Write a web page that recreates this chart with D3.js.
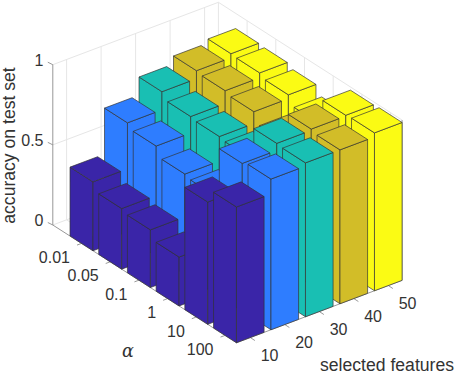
<!DOCTYPE html>
<html>
<head>
<meta charset="utf-8">
<script src="https://cdn.jsdelivr.net/npm/d3@7"></script>
<style>
  html, body { margin: 0; padding: 0; background: #fff; }
  text { font-family: "Liberation Sans", Arial, sans-serif; fill: #333; }
</style>
</head>
<body>
<svg id="chart" width="458" height="372"></svg>
<script>
const features = [10, 20, 30, 40, 50];
const alphas = ["0.01", "0.05", "0.1", "1", "10", "100"];
const zTicks = [0, 0.5, 1];

// one array per selected-features value, in alpha order
const acc10 = [0.43, 0.378, 0.36, 0.305, 0.763, 0.847];
const acc20 = [0.717, 0.687, 0.627, 0.613, 0.923, 0.94];
const acc30 = [0.83, 0.79, 0.78, 0.77, 0.967, 0.96];
const acc40 = [0.88, 0.87, 0.854, 0.79, 0.975, 0.96];
const acc50 = [0.905, 0.9, 0.878, 0.823, 0.98, 0.985];
const accuracy = [acc10, acc20, acc30, acc40, acc50];

const colors = ["#3a25a8", "#2e7dff", "#19bfb3", "#d2bd28", "#fbfb14"];

const svg = d3.select("#chart");

// oblique projection: each data axis gets its own pair of scales
const fx = d3.scaleLinear().domain([0, 1]).range([0, 34.5]);
const fy = d3.scaleLinear().domain([0, 1]).range([0, -13]);
const ax = d3.scaleLinear().domain([0, 1]).range([0, 28.7]);
const ay = d3.scaleLinear().domain([0, 1]).range([0, 18.4]);
const zy = d3.scaleLinear().domain([0, 1]).range([0, -160.3]);

function project(f, a, z) {
  return [32.1 + fx(f) + ax(a), 232.8 + fy(f) + ay(a) + zy(z)];
}
function path(points) {
  return d3.line()(points) + "Z";
}

const fMin = 0.6, fMax = 5.4, aMin = 0, aMax = 6.4;
const half = 0.4;

const grid = svg.append("g").attr("fill", "none").attr("stroke", "#e6e6e6").attr("stroke-width", 1);

function gridLine(p, q) {
  grid.append("path").attr("d", d3.line()([p, q]));
}

// walls
features.forEach((d, i) => gridLine(project(i + 1, aMin, 0), project(i + 1, aMin, 1)));
alphas.forEach((d, j) => gridLine(project(fMax, j + 1, 0), project(fMax, j + 1, 1)));
features.forEach((d, i) => gridLine(project(i + 1, aMin, 0), project(i + 1, aMax, 0)));
alphas.forEach((d, j) => gridLine(project(fMin, j + 1, 0), project(fMax, j + 1, 0)));
zTicks.forEach(z => {
  gridLine(project(fMin, aMin, z), project(fMax, aMin, z));
  gridLine(project(fMax, aMin, z), project(fMax, aMax, z));
});
gridLine(project(fMax, aMin, 0), project(fMax, aMin, 1));

// axis lines and ticks
const axes = svg.append("g").attr("fill", "none").attr("stroke", "#8c8c8c").attr("stroke-width", 0.9);
axes.append("path").attr("d", d3.line()([project(fMin, aMin, 1), project(fMin, aMin, 0), project(fMin, aMax, 0), project(fMax, aMax, 0), project(fMax, aMax, 1)]));
zTicks.forEach(z => {
  axes.append("path").attr("d", d3.line()([project(fMin, aMin, z), project(fMin - 0.02, aMin - 0.15, z)]));
});
alphas.forEach((d, j) => {
  axes.append("path").attr("d", d3.line()([project(fMin, j + 1, 0), project(fMin - 0.13, j + 1, 0)]));
});
features.forEach((d, i) => {
  axes.append("path").attr("d", d3.line()([project(i + 1, aMax, 0), project(i + 1, aMax + 0.16, 0)]));
});

// bars, back to front
const bars = [];
alphas.forEach((al, j) => {
  for (let i = features.length - 1; i >= 0; i--) {
    bars.push({ f: i + 1, a: j + 1, z: accuracy[i][j], color: colors[i] });
  }
});

const bar = svg.append("g").selectAll("g").data(bars).enter().append("g")
  .attr("fill", d => d.color)
  .attr("stroke", "#333")
  .attr("stroke-opacity", 0.85)
  .attr("stroke-width", 0.8)
  .attr("stroke-linejoin", "round");

bar.append("path").attr("d", d => path([
  project(d.f - half, d.a - half, 0), project(d.f - half, d.a + half, 0),
  project(d.f - half, d.a + half, d.z), project(d.f - half, d.a - half, d.z)]));
bar.append("path").attr("d", d => path([
  project(d.f - half, d.a + half, 0), project(d.f + half, d.a + half, 0),
  project(d.f + half, d.a + half, d.z), project(d.f - half, d.a + half, d.z)]));
bar.append("path").attr("d", d => path([
  project(d.f - half, d.a - half, d.z), project(d.f - half, d.a + half, d.z),
  project(d.f + half, d.a + half, d.z), project(d.f + half, d.a - half, d.z)]));

// tick labels
const fontSize = 16;
const titleSize = 17.6;
svg.append("g").selectAll("text").data(zTicks).enter().append("text")
  .attr("x", 43.5)
  .attr("y", d => project(fMin, aMin, d)[1] - 4.5)
  .attr("text-anchor", "end").attr("dominant-baseline", "central")
  .attr("font-size", fontSize)
  .text(d => d);

svg.append("g").selectAll("text").data(alphas).enter().append("text")
  .attr("x", (d, j) => project(fMin, j + 1, 0)[0] - 11.5)
  .attr("y", (d, j) => project(fMin, j + 1, 0)[1] + 14)
  .attr("text-anchor", "end").attr("dominant-baseline", "central")
  .attr("font-size", fontSize)
  .text(d => d);

features.forEach((d, i) => {
  svg.append("text")
    .attr("x", project(i + 1, aMax, 0)[0] + 10.4)
    .attr("y", project(i + 1, aMax, 0)[1] + 17.8)
    .attr("text-anchor", "start").attr("dominant-baseline", "central")
    .attr("font-size", fontSize)
    .text(d);
});

// axis titles
svg.append("text").attr("x", 454).attr("y", 364.5)
  .attr("text-anchor", "end").attr("dominant-baseline", "central")
  .attr("font-size", titleSize).text("selected features");

svg.append("text").attr("x", 128).attr("y", 350.5)
  .attr("text-anchor", "middle").attr("dominant-baseline", "central")
  .attr("font-size", titleSize)
  .style("font-family", '"DejaVu Serif", serif').attr("font-style", "italic")
  .text("α");

svg.append("text")
  .attr("transform", "translate(8.5,145.5) rotate(-90)")
  .attr("text-anchor", "middle").attr("dominant-baseline", "central")
  .attr("font-size", titleSize).text("accuracy on test set");
</script>
</body>
</html>
